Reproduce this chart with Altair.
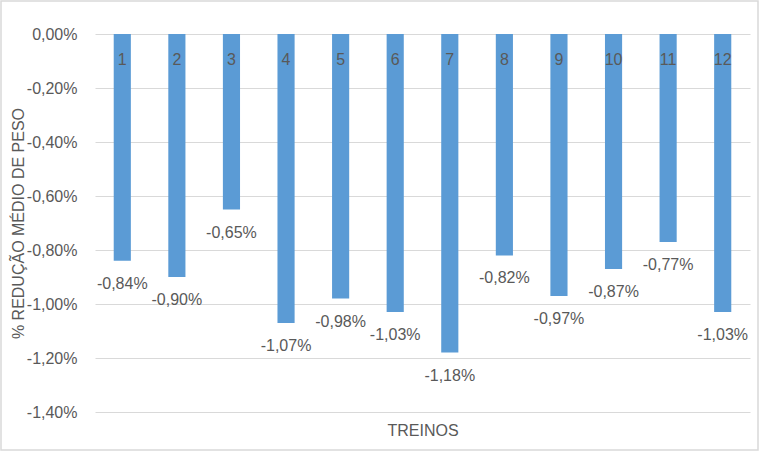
import altair as alt
import pandas as pd

treinos = [str(i) for i in range(1, 13)]
reducao = [-0.0084, -0.0090, -0.0065, -0.0107, -0.0098, -0.0103,
           -0.0118, -0.0082, -0.0097, -0.0087, -0.0077, -0.0103]
y_ticks = [0, -0.002, -0.004, -0.006, -0.008, -0.010, -0.012, -0.014]

df = pd.DataFrame({"treino": treinos, "valor": reducao})

FONT = "Liberation Sans"
GREY = "#595959"
fmt_expr = "replace(replace(format({v}, '.2%'), '.', ','), '\u2212', '-')"

x_enc = alt.X(
    "treino:N", sort=treinos,
    scale=alt.Scale(paddingInner=0.686, paddingOuter=0.343),
    axis=alt.Axis(title="TREINOS", labels=False, ticks=False, domain=False,
                  titleFont=FONT, titleFontSize=16, titleFontWeight="normal",
                  titleColor=GREY, titlePadding=10),
)
y_scale = alt.Scale(domain=[-0.014, 0], nice=False)

base = alt.Chart(df)

bars = base.mark_bar(color="#5B9BD5").encode(
    x=x_enc,
    y=alt.Y("valor:Q", scale=y_scale,
            axis=alt.Axis(title="% REDUÇÃO MÉDIO DE PESO", values=y_ticks,
                          labelExpr=fmt_expr.format(v="datum.value"),
                          ticks=False, domain=False, grid=True,
                          gridColor="#D9D9D9", labelFont=FONT, labelFontSize=16,
                          labelColor=GREY, labelPadding=18,
                          titleFont=FONT, titleFontSize=16, titleFontWeight="normal",
                          titleColor=GREY, titleAngle=270, titleAlign="center",
                          titleBaseline="middle", titleX=-77, titleY=189)),
    y2=alt.datum(0),
)

value_labels = base.transform_calculate(
    lbl=fmt_expr.format(v="datum.valor")
).mark_text(font=FONT, fontSize=16, color=GREY, baseline="top", dy=15).encode(
    x=alt.X("treino:N", sort=treinos),
    y=alt.Y("valor:Q", scale=y_scale),
    text="lbl:N",
)

cat_labels = base.mark_text(font=FONT, fontSize=16, color=GREY,
                            baseline="middle", dy=26).encode(
    x=alt.X("treino:N", sort=treinos),
    y=alt.datum(0),
    text="treino:N",
)

border = alt.Chart(pd.DataFrame({"a": [0]})).mark_rect(
    fill=None, stroke="#D9D9D9", strokeWidth=1.5, clip=False
).encode(
    x=alt.value(-94), x2=alt.value(663), y=alt.value(-33), y2=alt.value(416)
)

chart = alt.layer(bars, value_labels, cat_labels, border).properties(
    width=655, height=378,
    autosize=alt.AutoSizeParams(type="none"),
    padding={"left": 95, "top": 34, "right": 10, "bottom": 40},
    background="white",
).configure_view(stroke=None)

chart.save("out.html", embed_options={"renderer": "svg", "actions": False})
